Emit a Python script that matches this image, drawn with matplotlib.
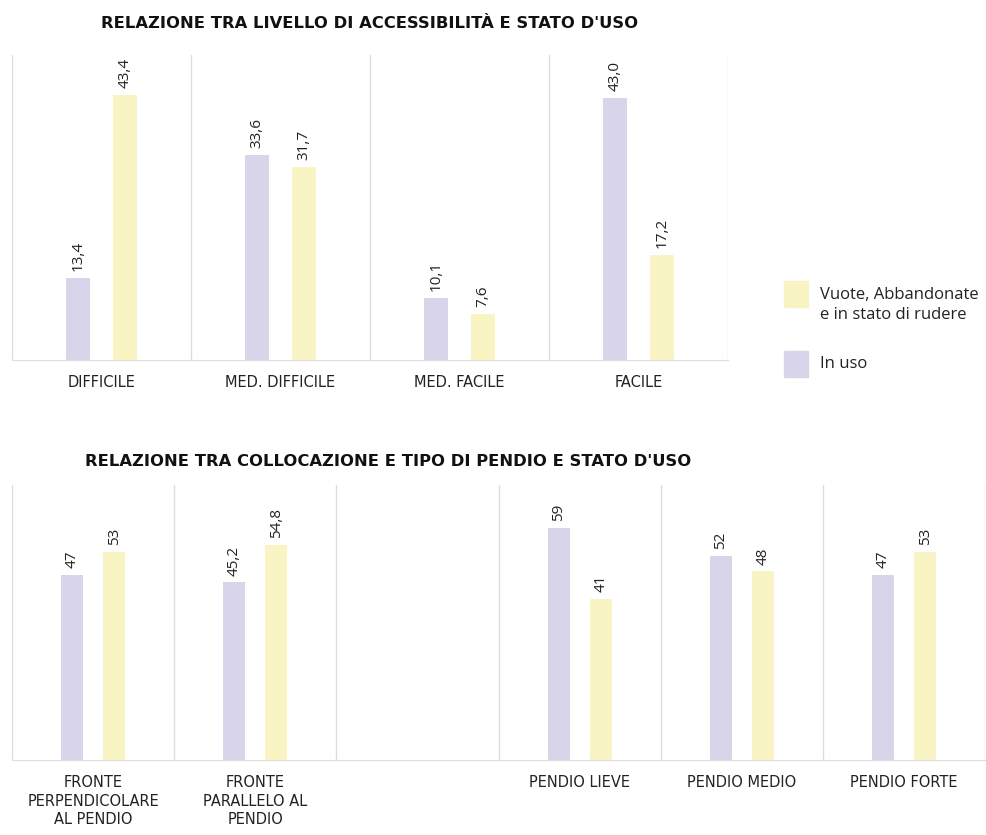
import matplotlib.pyplot as plt
import numpy as np

plt.rcParams['font.family'] = ['Open Sans', 'DejaVu Sans']

# top chart: accessibility
acc_labels = ['DIFFICILE', 'MED. DIFFICILE', 'MED. FACILE', 'FACILE']
acc_in_uso = [13.4, 33.6, 10.1, 43.0]
acc_vuote = [43.4, 31.7, 7.6, 17.2]

# bottom chart: position / slope (third slot is empty)
pos_labels = ['FRONTE\nPERPENDICOLARE\nAL PENDIO', 'FRONTE\nPARALLELO AL\nPENDIO', '',
              'PENDIO LIEVE', 'PENDIO MEDIO', 'PENDIO FORTE']
pos_in_uso = [47, 45.2, None, 59, 52, 47]
pos_vuote = [53, 54.8, None, 41, 48, 53]

c_uso = '#d8d5ea'
c_vuote = '#f9f4c4'
sep = '#dddddd'
txt = '#222222'
wide = ['DejaVu Sans']


def fmt(v, fixed):
    if fixed:
        return ('%.1f' % v).replace('.', ',')
    return ('%g' % v).replace('.', ',')


def draw(ax, labels, uso, vuote, ymax, fixed):
    n = len(labels)
    x = np.arange(n)
    w = 0.135
    off = 0.13
    for i in range(n):
        if uso[i] is None:
            continue
        for xx, v, c in [(x[i] - off, uso[i], c_uso), (x[i] + off, vuote[i], c_vuote)]:
            ax.bar(xx, v, width=w, color=c, zorder=2)
            ax.annotate(fmt(v, fixed), (xx, v), xytext=(0, 5), textcoords='offset points',
                        rotation=90, ha='center', va='bottom', fontsize=11, color=txt)
    for b in np.arange(n + 1) - 0.5:
        ax.axvline(b, color=sep, lw=1, zorder=1)
    ax.set_xlim(-0.5, n - 0.5)
    ax.set_ylim(0, ymax)
    for s in ['top', 'left', 'right']:
        ax.spines[s].set_visible(False)
    ax.spines['bottom'].set_color(sep)
    ax.set_yticks([])
    ax.set_xticks(x)
    ax.set_xticklabels(labels, fontsize=10.5, color=txt, linespacing=1.3, family=wide)
    ax.tick_params(axis='x', length=0, pad=11)


fig = plt.figure(figsize=(9.87, 8.35), dpi=100)

ax1 = fig.add_axes([0.0122, 0.5689, 0.7254, 0.3653])
draw(ax1, acc_labels, acc_in_uso, acc_vuote, 50, True)

ax2 = fig.add_axes([0.0122, 0.0898, 0.986, 0.3293])
draw(ax2, pos_labels, pos_in_uso, pos_vuote, 70, False)

fig.text(0.374, 0.972, "RELAZIONE TRA LIVELLO DI ACCESSIBILITÀ E STATO D'USO",
         ha='center', va='center', fontsize=11.8, fontweight='bold', color='#111111',
         family=wide)
fig.text(0.393, 0.447, "RELAZIONE TRA COLLOCAZIONE E TIPO DI PENDIO E STATO D'USO",
         ha='center', va='center', fontsize=11.8, fontweight='bold', color='#111111',
         family=wide)

# legend
fig.patches.append(plt.Rectangle((784 / 987, 1 - 307 / 835), 24 / 987, 26 / 835,
                                 transform=fig.transFigure, color=c_vuote))
fig.patches.append(plt.Rectangle((784 / 987, 1 - 377 / 835), 24 / 987, 26 / 835,
                                 transform=fig.transFigure, color=c_uso))
fig.text(820 / 987, 1 - 305 / 835, 'Vuote, Abbandonate\ne in stato di rudere',
         ha='left', va='center', fontsize=12, color=txt, linespacing=1.35)
fig.text(820 / 987, 1 - 364 / 835, 'In uso', ha='left', va='center', fontsize=12, color=txt)

fig.savefig('out.png', dpi=100)
